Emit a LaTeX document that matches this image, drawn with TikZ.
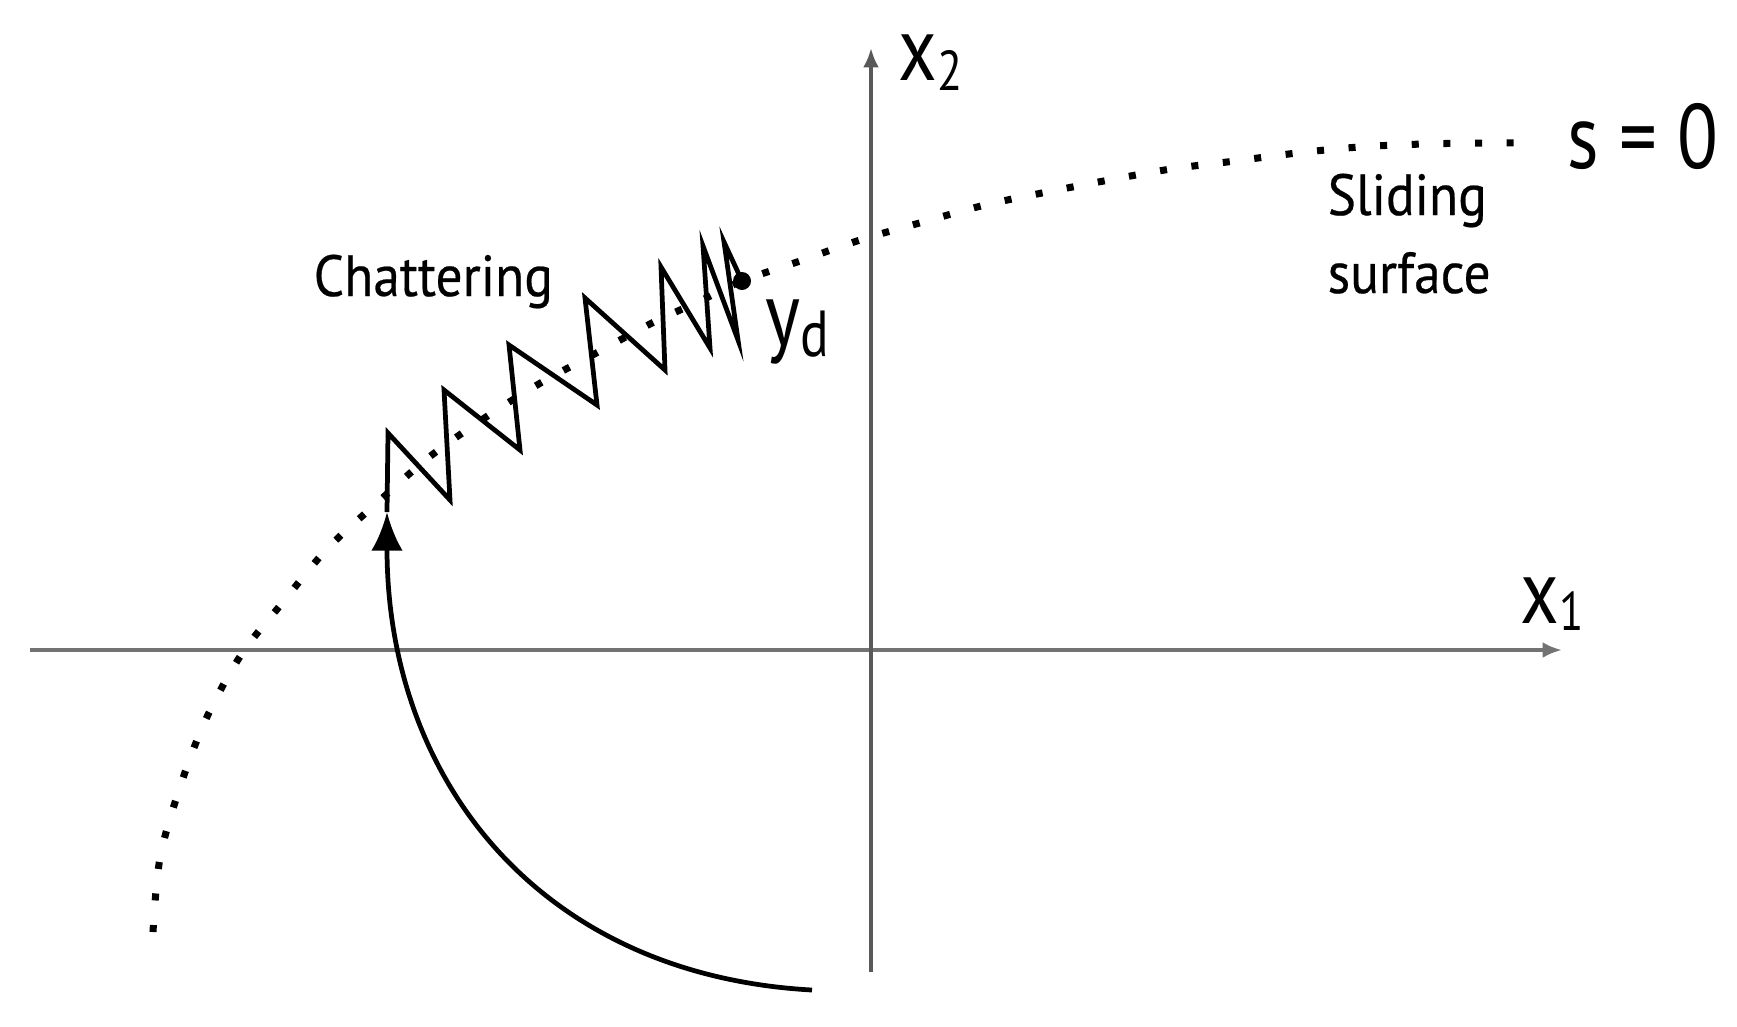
\documentclass[tikz,border=0pt]{standalone}
\usepackage{fontspec}
\setmainfont{PT Sans}[FakeStretch=0.82]
\newfontfamily\smalllblfont{PT Sans}[FakeStretch=0.92, FakeBold=0.4]
\usetikzlibrary{arrows.meta}
\begin{document}
\begin{tikzpicture}[x=0.01cm,y=-0.01cm,
  axisline/.style={line width=1.4pt, draw=black!55, -{Latex[length=5.5pt,width=4.5pt]}},
  slidecurve/.style={line width=2pt, dash pattern=on 2pt off 7pt},
  traj/.style={line width=1.35pt, line join=miter, miter limit=20},
  lbl/.style={inner sep=0pt, anchor=base west},
  biglbl/.style={lbl, font=\fontsize{26}{30}\selectfont},
  smalllbl/.style={lbl, font=\smalllblfont\fontsize{16.5}{22}\selectfont}
]
\useasboundingbox (0,0) rectangle (1737,1026);

% axes
\coordinate (xs) at (30,650);
\coordinate (xe) at (1562,650);
\coordinate (ys) at (871,972);
\coordinate (ye) at (871,48);
\draw[axisline] (xs) -- (xe);
\draw[axisline, draw=black!65, line width=1pt] (ys) -- (ye);

% sliding surface s = 0 (dotted)
\draw[slidecurve] plot[smooth, tension=0.55] coordinates {
 (153,932) (160,858) (180,787) (206,719) (241,655) (283,602) (327,549)
 (378,502) (428,458) (480,421) (537,385) (600,351) (652,323) (700,301)
 (742,281) (800,261) (860,240) (923,222) (985,205) (1047,192) (1109,180)
 (1171,169) (1235,161) (1297,153) (1359,147) (1423,144) (1487,143) (1522,143)};

% trajectory
\coordinate (t0) at (812,990);
\coordinate (tip) at (387,512);
\coordinate (p0) at (388,433);
\coordinate (p1) at (450,500);
\coordinate (p2) at (444,390);
\coordinate (p3) at (520,450);
\coordinate (p4) at (509,345);
\coordinate (p5) at (597,405);
\coordinate (p6) at (585,298);
\coordinate (p7) at (665,370);
\coordinate (p8) at (661,267);
\coordinate (p9) at (710,348);
\coordinate (p10) at (703,246);
\coordinate (p11) at (738,340);
\coordinate (p12) at (724,242);
\coordinate (yd) at (742,281);

\draw[traj, -{Latex[length=11pt,width=9pt]}] (t0) .. controls (540,975) and (387,780) .. (tip);
\draw[traj] (tip) -- (p0) -- (p1) -- (p2) -- (p3) -- (p4) -- (p5) -- (p6)
  -- (p7) -- (p8) -- (p9) -- (p10) -- (p11) -- (p12) -- (yd);
\fill (yd) circle[radius=9];

% labels
\node[biglbl] (lx2) at (898,80) {x\raisebox{-3pt}{\fontsize{16}{16}\selectfont 2}};
\node[biglbl] (lx1) at (1520,623) {x\raisebox{-2pt}{\fontsize{15.5}{16}\selectfont 1}};
\node[biglbl] (lyd) at (765,345) {y\raisebox{-3.4pt}{\fontsize{18.5}{18.5}\selectfont d}};
\node[biglbl] (ls) at (1567,168) {s = 0};
\node[smalllbl] (lch) at (313,296) {Chattering};
\node[smalllbl] (lsl) at (1327,215) {Sliding};
\node[smalllbl] (lsu) at (1327,293) {surface};
\end{tikzpicture}
\end{document}
